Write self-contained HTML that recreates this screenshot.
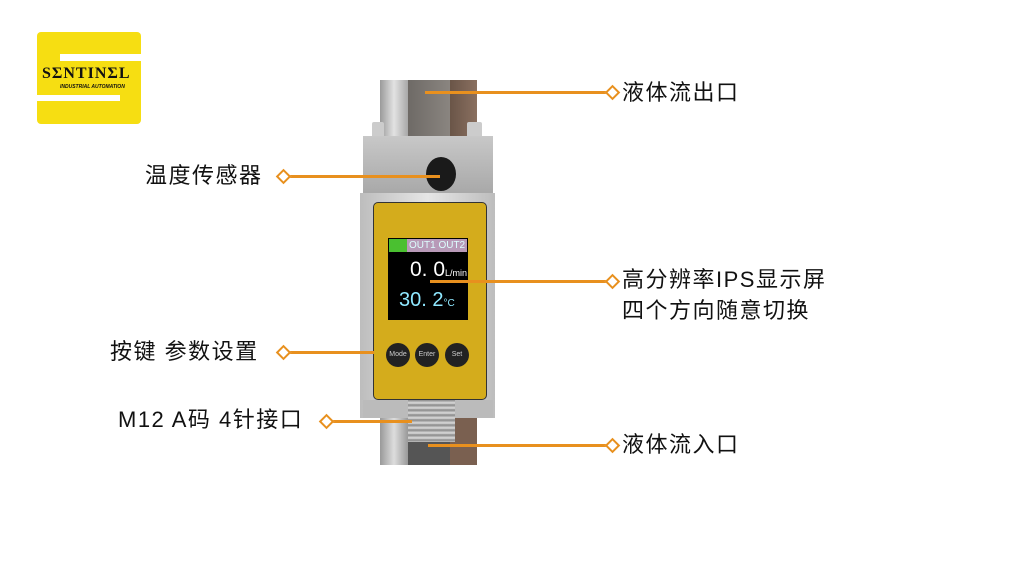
<!DOCTYPE html>
<html><head><meta charset="utf-8"><style>
body{margin:0;width:1024px;height:587px;background:#fff;position:relative;overflow:hidden;font-family:"Liberation Sans","Noto Sans CJK SC",sans-serif}
.a{position:absolute}
.t{position:absolute;font-size:22px;letter-spacing:1.5px;color:#111;line-height:26px;white-space:nowrap}
.ln{position:absolute;height:3px;background:#e8901e}
.d{position:absolute;width:7px;height:7px;border:2px solid #e8901e;background:#fff;transform:rotate(45deg)}
</style></head><body>
<div class="a" style="left:37px;top:32px;width:104px;height:92px;background:#f6de12;border-radius:4px"></div>
<div class="a" style="left:60px;top:54px;width:81px;height:7px;background:#fff"></div>
<div class="a" style="left:37px;top:95px;width:83px;height:6px;background:#fff"></div>
<div class="a" style="left:42px;top:65px;font-family:'Liberation Serif',serif;font-weight:bold;font-size:16px;letter-spacing:1px;color:#111">SΣNTINΣL</div>
<div class="a" style="left:60px;top:84px;font-size:5px;font-weight:bold;font-style:italic;color:#111">INDUSTRIAL AUTOMATION</div>

<div class="a" style="left:380px;top:80px;width:28px;height:56px;background:linear-gradient(90deg,#9a9a9a,#e2e2e2,#a8a8a8)"></div>
<div class="a" style="left:408px;top:80px;width:42px;height:56px;background:linear-gradient(90deg,#6e6a66,#8a8580)"></div>
<div class="a" style="left:450px;top:80px;width:27px;height:56px;background:linear-gradient(90deg,#6a5548,#8a7060)"></div>
<div class="a" style="left:372px;top:122px;width:12px;height:16px;background:#ccc;border-radius:2px"></div>
<div class="a" style="left:467px;top:122px;width:15px;height:16px;background:#ccc;border-radius:2px"></div>
<div class="a" style="left:363px;top:136px;width:130px;height:58px;background:linear-gradient(180deg,#c8c8c8,#a8a8a8)"></div>
<div class="a" style="left:426px;top:157px;width:30px;height:34px;background:#1a1a1a;border-radius:50%"></div>
<div class="a" style="left:360px;top:193px;width:135px;height:225px;background:linear-gradient(90deg,#bdbdbd,#e6e6e6 50%,#bdbdbd)"></div>
<div class="a" style="left:373px;top:202px;width:114px;height:198px;background:#d4ac1c;border:1px solid #333;border-radius:5px;box-sizing:border-box"></div>
<div class="a" style="left:388px;top:238px;width:80px;height:82px;background:#000"></div>
<div class="a" style="left:389px;top:239px;width:78px;height:13px;background:#b89ab8"></div>
<div class="a" style="left:389px;top:239px;width:18px;height:13px;background:#4ac030"></div>
<div class="a" style="left:409px;top:239px;font-size:10px;color:#dff;line-height:13px">OUT1 OUT2</div>
<div class="a" style="left:410px;top:258px;font-size:21px;color:#fff;line-height:24px">0. 0<span style="font-size:9px">L/min</span></div>
<div class="a" style="left:399px;top:288px;font-size:20px;color:#8fe8ff;line-height:24px">30. 2<span style="font-size:10px">°C</span></div>
<div class="a" style="left:386px;top:343px;width:24px;height:24px;border-radius:50%;background:#222;color:#ccc;font-size:7px;text-align:center;line-height:24px">Mode</div>
<div class="a" style="left:415px;top:343px;width:24px;height:24px;border-radius:50%;background:#222;color:#ccc;font-size:7px;text-align:center;line-height:24px">Enter</div>
<div class="a" style="left:445px;top:343px;width:24px;height:24px;border-radius:50%;background:#222;color:#ccc;font-size:7px;text-align:center;line-height:24px">Set</div>
<div class="a" style="left:363px;top:400px;width:130px;height:18px;background:#bbb"></div>
<div class="a" style="left:380px;top:418px;width:28px;height:47px;background:linear-gradient(90deg,#999,#ddd,#999)"></div>
<div class="a" style="left:408px;top:440px;width:42px;height:25px;background:#555"></div>
<div class="a" style="left:450px;top:418px;width:27px;height:47px;background:#7a6050"></div>
<div class="a" style="left:408px;top:400px;width:47px;height:42px;background:repeating-linear-gradient(180deg,#888 0,#ddd 3px,#888 5px)"></div>

<div class="ln" style="left:425px;top:91px;width:188px"></div><div class="d" style="left:607px;top:87px"></div>
<div class="t" style="left:622px;top:80px">液体流出口</div>
<div class="ln" style="left:284px;top:175px;width:156px"></div><div class="d" style="left:278px;top:171px"></div>
<div class="t" style="left:145px;top:163px">温度传感器</div>
<div class="ln" style="left:430px;top:280px;width:183px"></div><div class="d" style="left:607px;top:276px"></div>
<div class="t" style="left:622px;top:267px">高分辨率IPS显示屏</div>
<div class="t" style="left:622px;top:298px">四个方向随意切换</div>
<div class="ln" style="left:284px;top:351px;width:90px"></div><div class="d" style="left:278px;top:347px"></div>
<div class="t" style="left:110px;top:339px">按键 参数设置</div>
<div class="ln" style="left:327px;top:420px;width:85px"></div><div class="d" style="left:321px;top:416px"></div>
<div class="t" style="left:118px;top:407px">M12 A码 4针接口</div>
<div class="ln" style="left:428px;top:444px;width:185px"></div><div class="d" style="left:607px;top:440px"></div>
<div class="t" style="left:622px;top:432px">液体流入口</div>
</body></html>
